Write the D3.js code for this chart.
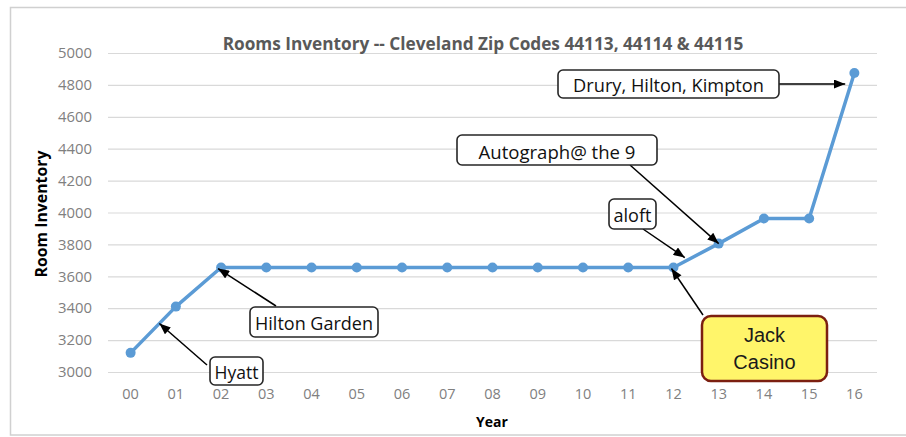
<!DOCTYPE html>
<html><head><meta charset="utf-8">
<script src="https://cdn.jsdelivr.net/npm/d3@7"></script>
<style>
html,body{margin:0;padding:0;background:#fff;}
svg{display:block;}
</style></head>
<body>
<svg id="chart" width="906" height="437"></svg>
<script>
// ---- data ----
const years = ["00","01","02","03","04","05","06","07","08","09","10","11","12","13","14","15","16"];
const rooms = [3120,3410,3655,3655,3655,3655,3655,3655,3655,3655,3655,3655,3655,3805,3962,3962,4875];
const yTicks = [3000,3200,3400,3600,3800,4000,4200,4400,4600,4800,5000];
const title = "Rooms Inventory -- Cleveland Zip Codes 44113, 44114 & 44115";
const xTitle = "Year";
const yTitle = "Room Inventory";
const noteLabels = ["Hyatt","Hilton Garden","aloft","Autograph@ the 9","Drury, Hilton, Kimpton","Jack Casino"];
// segment (from index, fraction toward next) each note points at
const noteTargets = [[0,0.57],[2,0],[12,0.25],[13,0],[15,0.93],[12,0]];

// ---- layout ----
const svg = d3.select("#chart");
const W = 906, H = 437;
const plot = {left:108, right:877, top:53, bottom:372};

svg.append("rect").attr("x",10.5).attr("y",7.5).attr("width",W).attr("height",427.5)
  .attr("fill","#fff").attr("stroke","#d0d0d0").attr("stroke-width",1.5);

const x = d3.scaleBand().domain(years).range([plot.left, plot.right]).padding(0);
const y = d3.scaleLinear().domain([3000,5000]).range([plot.bottom, plot.top]);
const cx = i => x(years[i]) + x.bandwidth()/2;
const cy = i => y(rooms[i]);

function fitText(sel, w){
  const len = sel.node().getComputedTextLength();
  const fs = parseFloat(sel.style("font-size"));
  sel.style("font-size", (fs*w/len).toFixed(2)+"px");
}

// gridlines + y axis
const yAxis = d3.axisLeft(y).tickValues(yTicks).tickFormat(d3.format("d"))
  .tickSize(-(plot.right-plot.left)).tickPadding(16);
const gy = svg.append("g").attr("transform",`translate(${plot.left},0)`).call(yAxis);
gy.select(".domain").remove();
gy.selectAll(".tick line").attr("stroke","#d9d9d9").attr("stroke-width",1.2);
gy.selectAll(".tick text").attr("fill","#808080").style("font-family","'Open Sans',sans-serif").style("font-size","14px");
gy.selectAll(".tick text").each(function(){ fitText(d3.select(this), 34); });

// x axis
const xAxis = d3.axisBottom(x).tickSize(0).tickPadding(17);
const gx = svg.append("g").attr("transform",`translate(0,${plot.bottom})`).call(xAxis);
gx.select(".domain").remove();
gx.selectAll(".tick text").attr("fill","#808080").style("font-family","'Open Sans',sans-serif").style("font-size","14.5px");

// titles
const t = svg.append("text").attr("x",483).attr("y",50).attr("text-anchor","middle")
  .attr("fill","#595959").style("font-family","'Open Sans',sans-serif").style("font-weight","bold").style("font-size","14px")
  .text(title);
fitText(t, 521);
svg.append("text").attr("x",492).attr("y",427).attr("text-anchor","middle")
  .attr("fill","#000").style("font-family","'Open Sans',sans-serif").style("font-weight","bold").style("font-size","14px")
  .text(xTitle);
const yt = svg.append("text").attr("transform","translate(47,214) rotate(-90)").attr("text-anchor","middle")
  .attr("fill","#000").style("font-family","'Open Sans',sans-serif").style("font-weight","bold").style("font-size","14px")
  .text(yTitle);
fitText(yt, 127);

// line + markers
const line = d3.line().x((d,i)=>cx(i)).y((d,i)=>cy(i));
svg.append("path").datum(rooms).attr("d",line).attr("fill","none")
  .attr("stroke","#5b9bd5").attr("stroke-width",3.5).attr("stroke-linejoin","round");
svg.selectAll("circle.pt").data(rooms).join("circle").attr("class","pt")
  .attr("cx",(d,i)=>cx(i)).attr("cy",(d,i)=>cy(i)).attr("r",5).attr("fill","#5b9bd5");

// arrow marker
svg.append("defs").append("marker").attr("id","ah").attr("viewBox","0 0 10 8")
  .attr("refX",10).attr("refY",4).attr("markerWidth",12).attr("markerHeight",9)
  .attr("markerUnits","userSpaceOnUse").attr("orient","auto")
  .append("path").attr("d","M0,0L10,4L0,8Z").attr("fill","#000");

// annotation layout: box [x,y,w,h], arrow start, tip offset, text width
const boxes = [
  {b:[210,357,53,28], s:[207,365], off:[3,-3], tw:44},
  {b:[250,307,128,30], s:[276,306], off:[-3,1], tw:118},
  {b:[609,199,47,30], s:[643,229], off:[0,-4], tw:38},
  {b:[457,135,200,30], s:[630,165], off:[0,0], tw:157},
  {b:[558,70,221,28], s:[779,84], off:[-6,0], tw:191},
];
function target(k){
  const [i,f] = noteTargets[k];
  const j = Math.min(i+1, rooms.length-1);
  return [cx(i)+(cx(j)-cx(i))*f, cy(i)+(cy(j)-cy(i))*f];
}
boxes.forEach((o,k)=>{
  let [tx,ty] = target(k);
  tx += o.off[0]; ty += o.off[1];
  if (k===4) ty = o.s[1];
  svg.append("line").attr("x1",o.s[0]).attr("y1",o.s[1]).attr("x2",tx).attr("y2",ty)
    .attr("stroke","#000").attr("stroke-width",1.5).attr("marker-end","url(#ah)");
});
boxes.forEach((o,k)=>{
  const [bx,by,bw,bh] = o.b;
  svg.append("rect").attr("x",bx).attr("y",by).attr("width",bw).attr("height",bh).attr("rx",5)
    .attr("fill","#fff").attr("stroke","#262626").attr("stroke-width",1.6);
  const tt = svg.append("text").attr("x",bx+bw/2).attr("y",by+bh/2+1).attr("text-anchor","middle")
    .attr("dominant-baseline","central")
    .attr("fill","#111").style("font-family","'Open Sans',sans-serif").style("font-size","16px")
    .text(noteLabels[k]);
  fitText(tt, o.tw);
});
// Jack Casino
{
  const [tx,ty] = target(5);
  svg.append("line").attr("x1",703).attr("y1",315).attr("x2",tx-2).attr("y2",ty+1)
    .attr("stroke","#000").attr("stroke-width",1.5).attr("marker-end","url(#ah)");
  svg.append("rect").attr("x",702).attr("y",316).attr("width",125).attr("height",65).attr("rx",9)
    .attr("fill","#fff56a").attr("stroke","#7b1f10").attr("stroke-width",2.5);
  const words = noteLabels[5].split(" ");
  words.forEach((w,i)=>{
    svg.append("text").attr("x",764.5).attr("y",335+i*27).attr("text-anchor","middle").attr("dominant-baseline","central")
      .attr("fill","#1a1a1a").style("font-family","'Liberation Sans',Arial,sans-serif").style("font-size","20px")
      .text(w);
  });
}
</script>
</body></html>
